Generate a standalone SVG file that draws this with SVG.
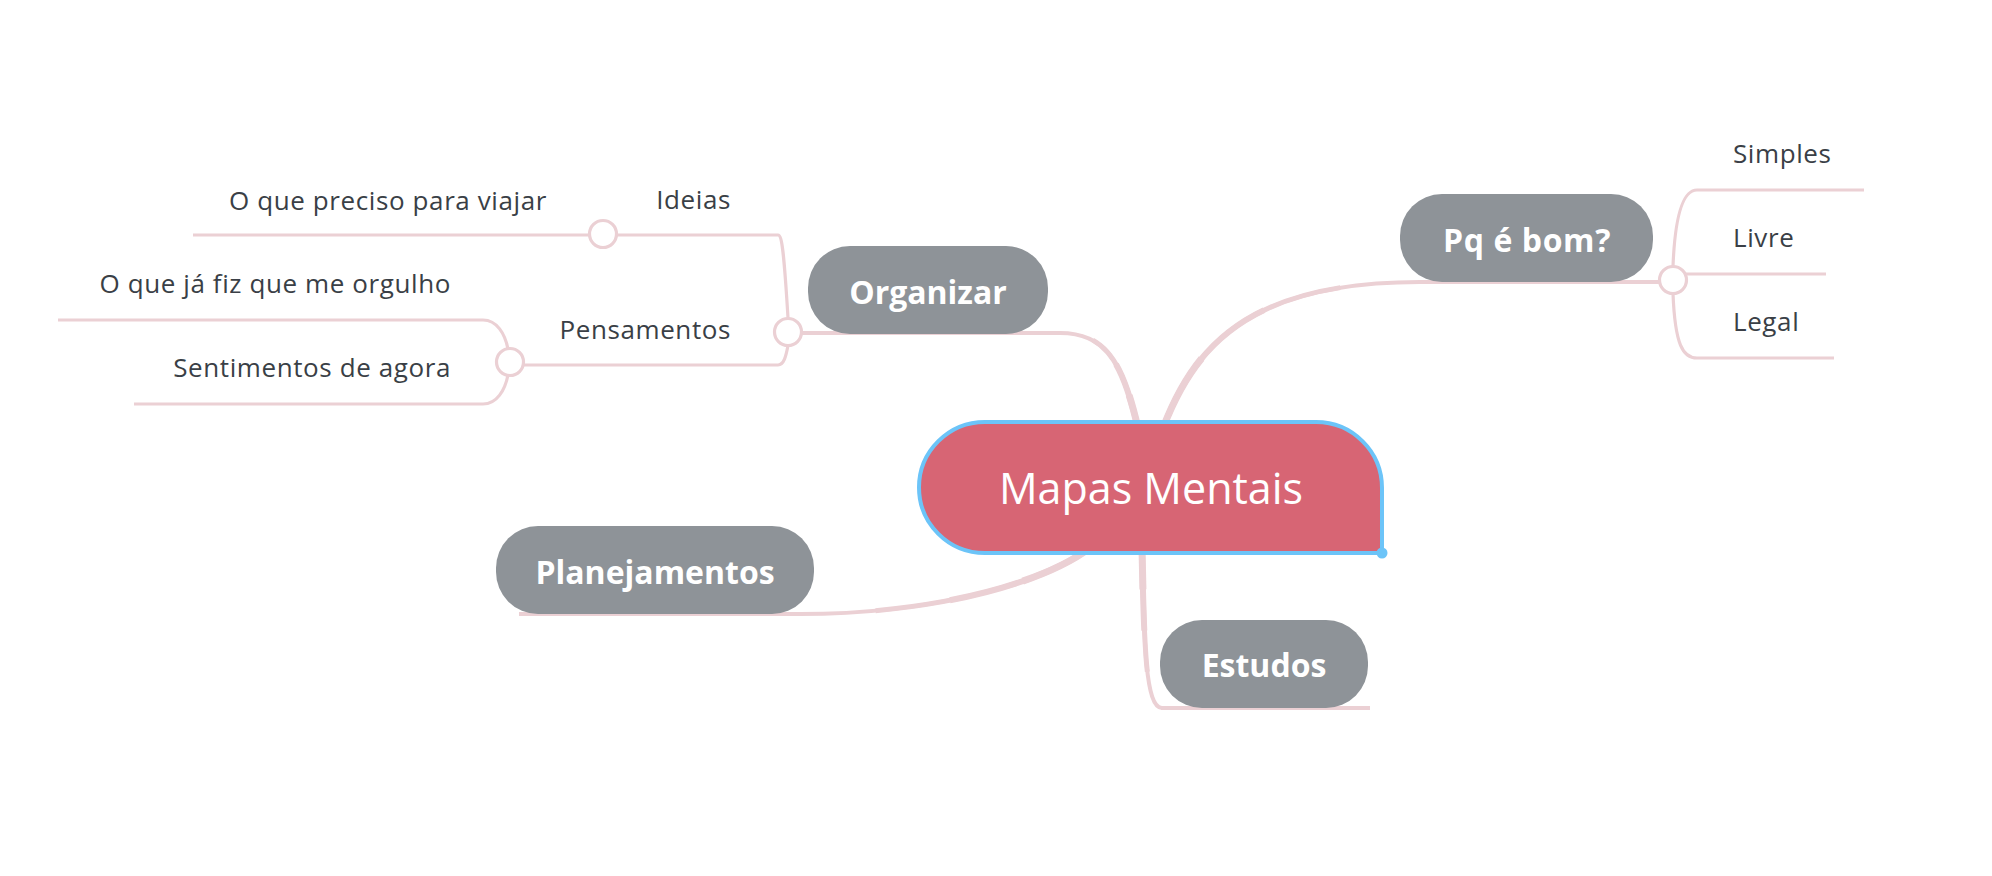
<svg xmlns="http://www.w3.org/2000/svg" width="1992" height="876" viewBox="0 0 1992 876">
<style>
.c{fill:none;stroke:#EBD0D4;stroke-width:3.2;stroke-linejoin:round}
.m{fill:none;stroke:#EBD0D4;stroke-linecap:butt;stroke-linejoin:round}
.k{fill:#fff;stroke:#EBD0D4;stroke-width:3.2}
.t{font-family:"Open Sans","Noto Sans",sans-serif;font-size:26px;fill:#3A3F46;letter-spacing:0.6px}
.e{text-anchor:end}
.b{font-family:"Open Sans","Noto Sans",sans-serif;font-size:32px;font-weight:700;fill:#fff;text-anchor:middle}
.n{fill:#8E9398}
</style>
<rect width="1992" height="876" fill="#fff"/>
<g id="connectors">
  <!-- Organizar branch -->
  <path class="m" stroke-width="4" d="M801,333 H1061"/>
  <path class="m" stroke-width="4" pathLength="100" d="M1060,333 C1105,333 1122,360 1138,428"/>
  <path class="m" stroke-width="5" pathLength="100" stroke-dasharray="0 25 100" d="M1060,333 C1105,333 1122,360 1138,428"/>
  <path class="m" stroke-width="6" pathLength="100" stroke-dasharray="0 50 100" d="M1060,333 C1105,333 1122,360 1138,428"/>
  <path class="m" stroke-width="7" pathLength="100" stroke-dasharray="0 75 100" d="M1060,333 C1105,333 1122,360 1138,428"/>
  <!-- Pq é bom branch -->
  <path class="m" stroke-width="4" pathLength="100" d="M1163,428 C1195,345 1250,282 1420,282"/>
  <path class="m" stroke-width="5" pathLength="100" stroke-dasharray="75 100" d="M1163,428 C1195,345 1250,282 1420,282"/>
  <path class="m" stroke-width="6" pathLength="100" stroke-dasharray="50 100" d="M1163,428 C1195,345 1250,282 1420,282"/>
  <path class="m" stroke-width="7" pathLength="100" stroke-dasharray="25 100" d="M1163,428 C1195,345 1250,282 1420,282"/>
  <path class="m" stroke-width="4" d="M1419,282 H1660"/>
  <!-- Estudos branch -->
  <path class="m" stroke-width="4" pathLength="100" d="M1142,548 C1144,640 1145,708 1162,708"/>
  <path class="m" stroke-width="5" pathLength="100" stroke-dasharray="75 100" d="M1142,548 C1144,640 1145,708 1162,708"/>
  <path class="m" stroke-width="6" pathLength="100" stroke-dasharray="50 100" d="M1142,548 C1144,640 1145,708 1162,708"/>
  <path class="m" stroke-width="7" pathLength="100" stroke-dasharray="25 100" d="M1142,548 C1144,640 1145,708 1162,708"/>
  <path class="m" stroke-width="4" d="M1161,708 H1370"/>
  <!-- Planejamentos branch -->
  <path class="m" stroke-width="4" pathLength="100" d="M1090,548 C1040,585 930,614 800,614"/>
  <path class="m" stroke-width="5" pathLength="100" stroke-dasharray="75 100" d="M1090,548 C1040,585 930,614 800,614"/>
  <path class="m" stroke-width="6" pathLength="100" stroke-dasharray="50 100" d="M1090,548 C1040,585 930,614 800,614"/>
  <path class="m" stroke-width="7" pathLength="100" stroke-dasharray="25 100" d="M1090,548 C1040,585 930,614 800,614"/>
  <path class="m" stroke-width="4" d="M801,614 H519"/>
  <!-- Organizar sub-branches -->
  <path class="c" d="M617,235 H778 C782,235 784,252 788,318"/>
  <path class="c" d="M788,345.5 C786,356 784,365 778,365 H523.5"/>
  <path class="c" d="M193,235 H589.5"/>
  <path class="c" d="M58,320 H483 C497,320 505,334 508,349"/>
  <path class="c" d="M508,375 C505,390 497,404 483,404 H134"/>
  <!-- Pq é bom sub-branches -->
  <path class="c" d="M1673,266.5 C1675,215 1683,190 1697,190 H1864"/>
  <path class="c" d="M1686,274 H1826"/>
  <path class="c" d="M1673,293.5 C1675,345 1683,358 1697,358 H1834"/>
  <!-- junction circles -->
  <circle class="k" cx="788" cy="332" r="13.5"/>
  <circle class="k" cx="603" cy="234" r="13.5"/>
  <circle class="k" cx="510" cy="362" r="13.5"/>
  <circle class="k" cx="1673" cy="280" r="13.5"/>
</g>
<g id="central">
  <path d="M985,422 H1316 A66,66 0 0 1 1382,488 V553 H985 A66,65.5 0 0 1 919,487.5 A66,65.5 0 0 1 985,422 Z" fill="#D76574" stroke="#6CC4F8" stroke-width="4"/>
  <circle cx="1382" cy="553" r="5.5" fill="#6CC4F8"/>
  <text x="1151" y="504" font-family="'Open Sans','Noto Sans',sans-serif" font-size="43" fill="#fff" text-anchor="middle">Mapas Mentais</text>
</g>
<g id="organizar">
  <rect class="n" x="808" y="246" width="240" height="88" rx="42"/>
  <text class="b" x="928" y="304">Organizar</text>
</g>
<g id="pq-e-bom">
  <rect class="n" x="1400" y="194" width="253" height="88" rx="42"/>
  <text class="b" x="1527" y="251.5" letter-spacing="0.6">Pq é bom?</text>
</g>
<g id="planejamentos">
  <rect class="n" x="496" y="526" width="318" height="88" rx="42"/>
  <text class="b" x="655" y="583.5">Planejamentos</text>
</g>
<g id="estudos">
  <rect class="n" x="1160" y="620" width="208" height="88" rx="42"/>
  <text class="b" x="1264" y="677">Estudos</text>
</g>
<g id="ideias"><text class="t e" x="731" y="209">Ideias</text></g>
<g id="o-que-preciso"><text class="t e" x="547" y="210">O que preciso para viajar</text></g>
<g id="pensamentos"><text class="t e" x="731" y="339">Pensamentos</text></g>
<g id="o-que-ja-fiz"><text class="t e" x="451" y="293">O que já fiz que me orgulho</text></g>
<g id="sentimentos"><text class="t e" x="451" y="377">Sentimentos de agora</text></g>
<g id="simples"><text class="t" x="1733" y="163">Simples</text></g>
<g id="livre"><text class="t" x="1733" y="247">Livre</text></g>
<g id="legal"><text class="t" x="1733" y="331">Legal</text></g>
</svg>
